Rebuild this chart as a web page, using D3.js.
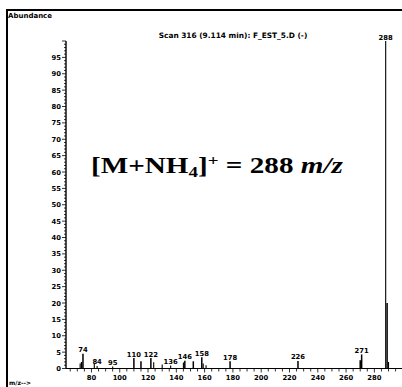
<!DOCTYPE html>
<html>
<head>
<meta charset="utf-8">
<script src="https://cdn.jsdelivr.net/npm/d3@7"></script>
<style>
  html, body { margin: 0; padding: 0; background: #fff; }
  svg { display: block; }
</style>
</head>
<body>
<svg id="chart" width="402" height="387"></svg>
<script>
// Mass spectrum, scan 316: m/z values and relative abundances
const mzValues = [72, 73, 74, 82, 84, 95, 110, 115, 122, 124, 130, 136, 145, 146, 152, 158, 159, 161, 178, 226, 270, 271, 288, 289, 290];
const abundances = [1.5, 2.0, 4.5, 1.5, 0.8, 0.6, 3.2, 2.2, 3.2, 1.9, 1.2, 0.9, 1.8, 2.4, 2.2, 3.4, 1.5, 1.0, 2.2, 2.3, 2.5, 4.3, 100, 20, 2];
// Peaks whose m/z is printed above them
const labeledPeaks = [74, 84, 95, 110, 122, 136, 146, 158, 178, 226, 271, 288];
// Axis tick labels
const xTickLabels = [80, 100, 120, 140, 160, 180, 200, 220, 240, 260, 280];
const yTickLabels = [0, 5, 10, 15, 20, 25, 30, 35, 40, 45, 50, 55, 60, 65, 70, 75, 80, 85, 90, 95];

const titleText = "Scan 316 (9.114 min): F_EST_5.D (-)";

const svg = d3.select("#chart");
const smallFont = "'DejaVu Sans', Verdana, sans-serif";

const x = d3.scaleLinear().domain([62, 296]).range([66, 397]);
const y = d3.scaleLinear().domain([0, 100]).range([368.5, 41]);

// Outer frame: left and top edges
svg.append("line").attr("x1", 7).attr("x2", 7).attr("y1", 9).attr("y2", 387)
  .attr("stroke", "#000").attr("stroke-width", 2);
svg.append("line").attr("x1", 6).attr("x2", 402).attr("y1", 10).attr("y2", 10)
  .attr("stroke", "#000").attr("stroke-width", 2);

svg.append("text").attr("x", 8).attr("y", 18)
  .attr("font-family", smallFont).attr("font-weight", "bold").attr("font-size", 7)
  .text("Abundance");

svg.append("text").attr("x", 9).attr("y", 385)
  .attr("font-family", smallFont).attr("font-weight", "bold").attr("font-size", 6)
  .text("m/z-->");

svg.append("text").attr("x", 233).attr("y", 38).attr("text-anchor", "middle")
  .attr("font-family", smallFont).attr("font-weight", "bold").attr("font-size", 7.4)
  .text(titleText);

// Y axis: minor ticks every unit, major every 5
const yAxis = svg.append("g");
yAxis.append("line").attr("x1", x(62)).attr("x2", x(62)).attr("y1", y(100)).attr("y2", y(0))
  .attr("stroke", "#000").attr("stroke-width", 1.4);
yAxis.selectAll("line.minor").data(d3.range(0, 101, 1)).join("line")
  .attr("class", "minor")
  .attr("x1", x(62)).attr("x2", d => x(62) - (d % 5 === 0 ? 4 : 2))
  .attr("y1", d => y(d)).attr("y2", d => y(d))
  .attr("stroke", "#000").attr("stroke-width", 0.8);
yAxis.selectAll("text").data(yTickLabels).join("text")
  .attr("x", x(62) - 5).attr("y", d => y(d) + 2.5)
  .attr("text-anchor", "end")
  .attr("font-family", smallFont).attr("font-weight", "bold").attr("font-size", 6.8)
  .text(d => d);

// X axis: ticks every 5, labels every 20
const xAxis = svg.append("g");
xAxis.append("line").attr("x1", x(62)).attr("x2", 402).attr("y1", y(0)).attr("y2", y(0))
  .attr("stroke", "#000").attr("stroke-width", 1.2);
xAxis.selectAll("line.tick").data(d3.range(65, 296, 5)).join("line")
  .attr("class", "tick")
  .attr("x1", d => x(d)).attr("x2", d => x(d))
  .attr("y1", y(0)).attr("y2", d => y(0) + (d % 20 === 0 ? 4 : 3))
  .attr("stroke", "#000").attr("stroke-width", 0.8);
xAxis.selectAll("text").data(xTickLabels).join("text")
  .attr("x", d => x(d)).attr("y", y(0) + 11)
  .attr("text-anchor", "middle")
  .attr("font-family", smallFont).attr("font-weight", "bold").attr("font-size", 6.8)
  .text(d => d);

// Peaks
const peaks = mzValues.map((m, i) => ({ mz: m, ab: abundances[i] }));
svg.append("g").selectAll("line").data(peaks).join("line")
  .attr("x1", d => x(d.mz)).attr("x2", d => x(d.mz))
  .attr("y1", y(0)).attr("y2", d => y(d.ab))
  .attr("stroke", "#000")
  .attr("stroke-width", d => (d.ab >= 2 && d.mz < 280) || d.mz === 289 ? 1.5 : 1.1);

svg.append("g").selectAll("text").data(peaks.filter(d => labeledPeaks.includes(d.mz))).join("text")
  .attr("x", d => x(d.mz)).attr("y", d => y(d.ab) - 1.5)
  .attr("text-anchor", "middle")
  .attr("font-family", smallFont).attr("font-weight", "bold").attr("font-size", 6.8)
  .text(d => d.mz);

// Adduct annotation, stretched to span its box
const noteX = 91, noteW = 252;
const note = svg.append("text").attr("x", 0).attr("y", 0)
  .attr("font-family", "'Liberation Serif', 'Times New Roman', serif")
  .attr("font-weight", "bold").attr("font-size", 23);
note.append("tspan").text("[M+NH");
note.append("tspan").attr("font-size", 15).attr("dy", 4).text("4");
note.append("tspan").attr("dy", -4).text("]");
note.append("tspan").attr("font-size", 15).attr("dy", -8).text("+");
note.append("tspan").attr("dy", 8).text(" = 288 ");
note.append("tspan").attr("font-style", "italic").text("m/z");
const bb = note.node().getBBox();
const sx = noteW / bb.width;
note.attr("transform", `translate(${noteX - bb.x * sx},173) scale(${sx},1)`);
</script>
</body>
</html>
